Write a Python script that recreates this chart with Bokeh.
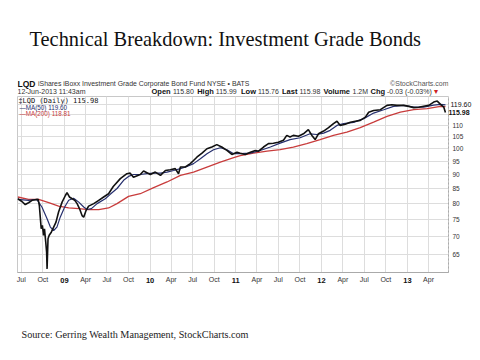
import pandas as pd
from bokeh.plotting import figure
from bokeh.layouts import column
from bokeh.models import (Range1d, FixedTicker, Label, PrintfTickFormatter, DatetimeAxis, LogAxis)
from bokeh.embed import file_html
from bokeh.resources import INLINE

# ---------------- data ----------------
price_dates = ["2008-06-16", "2008-07-04", "2008-07-18", "2008-08-01", "2008-08-16", "2008-08-30",
               "2008-09-11", "2008-09-16", "2008-09-20", "2008-09-24", "2008-09-29", "2008-10-04",
               "2008-10-08", "2008-10-14", "2008-10-17", "2008-10-19", "2008-10-23", "2008-10-28",
               "2008-11-06", "2008-11-16", "2008-11-26", "2008-12-07", "2008-12-22", "2009-01-05",
               "2009-01-12", "2009-01-22", "2009-02-03", "2009-02-14", "2009-02-24", "2009-03-06",
               "2009-03-17", "2009-03-24", "2009-04-03", "2009-04-14", "2009-05-06", "2009-05-27",
               "2009-06-17", "2009-07-08", "2009-07-28", "2009-08-27", "2009-09-24", "2009-10-08",
               "2009-10-22", "2009-11-20", "2009-12-04", "2010-01-02", "2010-01-23", "2010-02-14",
               "2010-03-07", "2010-03-28", "2010-04-18", "2010-05-02", "2010-05-10", "2010-05-31",
               "2010-06-21", "2010-07-05", "2010-07-19", "2010-08-10", "2010-08-31", "2010-09-21",
               "2010-10-12", "2010-11-02", "2010-11-24", "2010-12-15", "2011-01-06", "2011-01-20",
               "2011-02-10", "2011-03-04", "2011-03-25", "2011-04-08", "2011-04-29", "2011-05-20",
               "2011-06-10", "2011-07-01", "2011-07-23", "2011-08-06", "2011-08-20", "2011-09-03",
               "2011-09-25", "2011-10-16", "2011-11-06", "2011-11-21", "2011-12-05", "2011-12-19",
               "2012-01-10", "2012-01-31", "2012-02-21", "2012-03-07", "2012-03-21", "2012-04-11",
               "2012-05-03", "2012-05-24", "2012-06-14", "2012-07-06", "2012-07-20", "2012-08-10",
               "2012-09-08", "2012-10-06", "2012-10-27", "2012-11-17", "2012-12-16", "2013-01-07",
               "2013-01-28", "2013-02-18", "2013-03-11", "2013-04-02", "2013-04-23", "2013-05-08",
               "2013-05-22", "2013-06-05", "2013-06-12"]
price_vals = [81.5, 80.6, 79.6, 80.2, 81.0, 81.2,
              81.3, 79.3, 75.6, 72.1, 73.1, 70.2,
              72.1, 67.8, 65.5, 61.2, 69.2, 70.2,
              71.1, 72.6, 74.1, 77.2, 80.4, 82.6,
              83.6, 82.1, 81.5, 81.0, 79.9, 78.3,
              76.1, 75.6, 77.7, 79.1, 79.9, 81.0,
              82.1, 83.2, 85.7, 88.5, 90.3, 90.5,
              89.0, 90.0, 91.3, 90.0, 90.9, 89.7,
              91.5, 91.8, 92.2, 90.3, 92.8, 92.8,
              94.1, 95.3, 96.6, 98.2, 100.0, 100.7,
              101.7, 100.7, 99.3, 97.7, 98.6, 98.2,
              97.7, 98.6, 99.3, 99.0, 100.7, 102.1,
              102.3, 102.7, 103.5, 105.6, 104.9, 105.6,
              105.2, 106.3, 108.1, 105.6, 103.8, 106.3,
              107.5, 109.0, 110.8, 111.9, 110.0, 110.5,
              111.4, 111.9, 112.3, 113.8, 116.1, 116.9,
              117.3, 119.4, 119.7, 119.4, 119.4, 118.9,
              118.3, 118.5, 119.0, 119.4, 121.0, 121.5,
              119.9, 118.5, 115.98]

ma50_dates = ["2008-06-16", "2008-08-01", "2008-09-05", "2008-09-27", "2008-10-19", "2008-11-02",
              "2008-11-16", "2008-11-30", "2008-12-14", "2009-01-02", "2009-01-19", "2009-02-09",
              "2009-03-03", "2009-03-24", "2009-04-07", "2009-04-26", "2009-05-20", "2009-06-24",
              "2009-07-15", "2009-08-13", "2009-09-10", "2009-10-01", "2009-10-22", "2009-11-20",
              "2009-12-18", "2010-01-16", "2010-02-14", "2010-03-14", "2010-04-11", "2010-05-10",
              "2010-06-07", "2010-07-05", "2010-08-03", "2010-08-31", "2010-09-28", "2010-10-27",
              "2010-11-24", "2010-12-23", "2011-01-20", "2011-03-04", "2011-04-15", "2011-05-28",
              "2011-07-09", "2011-08-20", "2011-10-02", "2011-11-13", "2011-12-12", "2012-01-10",
              "2012-02-07", "2012-03-07", "2012-04-04", "2012-05-17", "2012-06-29", "2012-08-10",
              "2012-09-22", "2012-11-03", "2012-12-16", "2013-01-28", "2013-03-11", "2013-04-23",
              "2013-05-22", "2013-06-12"]
ma50_vals = [81.3, 81.0, 81.3, 78.8, 75.1, 72.6,
             71.6, 72.6, 75.6, 78.8, 81.0, 81.7,
             80.4, 78.8, 78.0, 78.3, 79.9, 81.5,
             83.0, 85.0, 87.9, 89.3, 90.0, 90.0,
             90.3, 90.5, 90.5, 90.9, 91.5, 92.2,
             93.0, 94.1, 96.0, 98.0, 99.6, 100.4,
             99.6, 98.0, 98.0, 98.2, 99.3, 100.7,
             102.3, 103.8, 104.6, 106.3, 106.0, 106.6,
             107.8, 110.0, 110.8, 111.4, 113.1, 115.7,
             117.3, 118.9, 119.4, 118.5, 118.5, 119.5,
             119.9, 119.6]

ma200_dates = ["2008-06-16", "2008-08-01", "2008-09-13", "2008-10-26", "2008-12-07", "2009-01-19",
               "2009-03-03", "2009-04-14", "2009-05-27", "2009-07-08", "2009-08-13", "2009-10-01",
               "2009-11-20", "2010-01-16", "2010-03-14", "2010-05-10", "2010-07-05", "2010-08-31",
               "2010-10-27", "2010-12-23", "2011-01-20", "2011-03-18", "2011-05-14", "2011-07-09",
               "2011-09-03", "2011-10-30", "2011-12-26", "2012-02-21", "2012-04-18", "2012-06-14",
               "2012-08-10", "2012-10-06", "2012-12-02", "2013-01-28", "2013-03-26", "2013-05-22",
               "2013-06-12"]
ma200_vals = [82.1, 81.3, 81.3, 80.2, 79.1, 78.5,
              78.3, 78.0, 78.0, 78.5, 79.9, 82.3,
              83.2, 85.3, 87.3, 89.7, 90.9, 92.8,
              94.7, 96.4, 97.2, 98.2, 99.0, 99.6,
              100.7, 102.1, 103.8, 105.6, 107.0, 109.0,
              111.5, 114.1, 116.1, 117.3, 117.8, 118.9,
              118.81]

tick_dates = ["2008-07-01", "2008-10-01", "2009-01-01", "2009-04-01", "2009-07-01", "2009-10-01",
              "2010-01-01", "2010-04-01", "2010-07-01", "2010-10-01", "2011-01-01", "2011-04-01",
              "2011-07-01", "2011-10-01", "2012-01-01", "2012-04-01", "2012-07-01", "2012-10-01",
              "2013-01-01", "2013-04-01"]
tick_labels = ["Jul", "Oct", "", "Apr", "Jul", "Oct", "", "Apr", "Jul", "Oct", "", "Apr",
               "Jul", "Oct", "", "Apr", "Jul", "Oct", "", "Apr"]
year_dates = ["2009-01-01", "2010-01-01", "2011-01-01", "2012-01-01", "2013-01-01"]
year_labels = ["09", "10", "11", "12", "13"]

y_ticks = [65, 70, 75, 80, 85, 90, 95, 100, 105, 110, 115, 120]
y_tick_labels = ["65", "70", "75", "80", "85", "90", "95", "100", "105", "110", "", ""]

title = "Technical Breakdown: Investment Grade Bonds"
source_note = "Source: Gerring Wealth Management, StockCharts.com"
last_close = 115.98
last_ma50 = 119.60
last_ma200 = 118.81

W = 480
HEAD_H, CHART_H, FOOT_H = 96, 202, 62
FRAME_L, FRAME_R, FRAME_B = 17, 448, 272   # page pixels of the chart frame


def text_fig(height, y0):
    f = figure(width=W, height=height, x_range=Range1d(FRAME_L, FRAME_R),
               y_range=Range1d(y0 + height, y0),
               x_axis_location=None, y_axis_location=None, output_backend="svg",
               toolbar_location=None, min_border_left=FRAME_L, min_border_right=W - FRAME_R,
               min_border_top=0, min_border_bottom=0)
    f.outline_line_color = None
    f.xgrid.visible = False
    f.ygrid.visible = False
    return f


def put(f, text, x, y, size, color="#222222", bold=False, font="Liberation Sans", align="left",
        units="data", **kw):
    f.add_layout(Label(x=x, y=y, x_units=units, y_units=units, text=text, text_font=font,
                       text_font_size=f"{size}px", text_font_style="bold" if bold else "normal",
                       text_color=color, text_align=align, text_baseline="middle", **kw))


# ---------------- header ----------------
head = text_fig(HEAD_H, 0)
put(head, title, 29, 38, 20.4, color="#111111", font="Liberation Serif")
put(head, "LQD", 17, 83, 8.5, color="#111111", bold=True)
put(head, "iShares iBoxx Investment Grade Corporate Bond Fund NYSE \u2022 BATS", 37.5, 83, 6.9, color="#333333")
put(head, "\u00a9StockCharts.com", 448, 83, 7, color="#555555", align="right")
put(head, "12-Jun-2013 11:43am", 17, 91, 7, color="#333333")
header = [("Open", 151, True), ("115.80", 172.5, False), ("High", 196.7, True), ("115.99", 215.3, False),
          ("Low", 240.5, True), ("115.76", 257.5, False), ("Last", 281.5, True), ("115.98", 299, False),
          ("Volume", 323, True), ("1.2M", 352, False), ("Chg", 370, True), ("-0.03 (-0.03%)", 386.5, False)]
for t, x, b in header:
    put(head, t, x, 91, 7.5 if b else 7, color="#111111" if b else "#333333", bold=b)
put(head, "\u25be", 433, 91, 8, color="#cc2222")

# ---------------- chart ----------------
p = figure(width=W, height=CHART_H, x_axis_type="datetime", y_axis_type="log",
           y_axis_location="right", output_backend="svg", toolbar_location=None,
           min_border_left=FRAME_L, min_border_right=W - FRAME_R, min_border_top=0,
           min_border_bottom=CHART_H - (FRAME_B - HEAD_H),
           x_range=Range1d(pd.Timestamp("2008-06-15"), pd.Timestamp("2013-06-25")),
           y_range=Range1d(60.3, 123.8))
p.outline_line_color = "#c8c8c8"

p.line(pd.to_datetime(ma200_dates), ma200_vals, line_color="#c83c3c", line_width=1.3)
p.line(pd.to_datetime(ma50_dates), ma50_vals, line_color="#27306e", line_width=1.2)
p.line(pd.to_datetime(price_dates), price_vals, line_color="#111111", line_width=1.6)

tick_ms = [int(t.value // 10**6) for t in pd.to_datetime(tick_dates)]
xa = p.xaxis[0]
xa.ticker = FixedTicker(ticks=tick_ms)
xa.major_label_overrides = {ms: lab for ms, lab in zip(tick_ms, tick_labels)}
xa.major_label_text_font = "Liberation Sans"
xa.major_label_text_font_size = "7px"
xa.major_label_text_color = "#333333"
xa.major_label_standoff = 3
xa.major_tick_out = 0
xa.major_tick_in = 0
xa.minor_tick_out = 0
xa.minor_tick_in = 0
xa.axis_line_color = "#aaaaaa"

year_ms = [int(t.value // 10**6) for t in pd.to_datetime(year_dates)]
ya_axis = DatetimeAxis(ticker=FixedTicker(ticks=year_ms),
                       major_label_overrides={ms: lab for ms, lab in zip(year_ms, year_labels)},
                       major_label_text_font="Liberation Sans", major_label_text_font_style="bold",
                       major_label_text_font_size="7.5px", major_label_text_color="#111111",
                       major_label_standoff=-8, major_tick_out=0, major_tick_in=0,
                       minor_tick_out=0, minor_tick_in=0, axis_line_color=None)
p.add_layout(ya_axis, "below")

yax = p.yaxis[0]
yax.ticker = FixedTicker(ticks=y_ticks)
yax.formatter = PrintfTickFormatter(format="%d")
yax.major_label_overrides = {t: lab for t, lab in zip(y_ticks, y_tick_labels)}
yax.major_label_text_font = "Liberation Sans"
yax.major_label_text_font_size = "6.5px"
yax.major_label_text_color = "#333333"
yax.major_label_standoff = 4
yax.major_tick_out = 0
yax.major_tick_in = 0
yax.minor_tick_out = 0
yax.minor_tick_in = 0
yax.axis_line_color = "#aaaaaa"
yax.axis_line_dash = "2 2"

# last-value tags on the right (real axes so they sit outside the frame)
for val, bold, so in [(last_ma50, False, -16), (last_close, True, -26)]:
    p.add_layout(LogAxis(ticker=FixedTicker(ticks=[val]), formatter=PrintfTickFormatter(format="%.2f"),
                         major_label_text_font="Liberation Sans", major_label_text_font_size="7px",
                         major_label_text_font_style="bold" if bold else "normal",
                         major_label_text_color="#111111", major_label_standoff=so,
                         major_tick_out=0, major_tick_in=0, minor_tick_out=0, minor_tick_in=0,
                         axis_line_color=None), "right")

p.xgrid.grid_line_color = "#dddddd"
p.ygrid.grid_line_color = "#dddddd"

# legend text inside the frame (screen units from the frame's lower-left corner)
for t, x, y, size, color, font in [
        ("\u2021", 18, 100, 7, "#111111", "Liberation Sans"),
        (f"LQD (Daily) {last_close:.2f}", 22, 100, 7, "#111111", "DejaVu Sans Mono"),
        (f"\u2014MA(50) {last_ma50:.2f}", 19, 106.7, 6.3, "#27306e", "Liberation Sans"),
        (f"\u2014MA(200) {last_ma200:.2f}", 19, 113.4, 6.3, "#c83c3c", "Liberation Sans")]:
    put(p, t, x - FRAME_L, FRAME_B - y, size, color=color, font=font, units="screen")

# ---------------- footer ----------------
foot = text_fig(FOOT_H, HEAD_H + CHART_H)
put(foot, source_note, 21, 334, 10.2, color="#222222", font="Liberation Serif")

open("out.html", "w").write(file_html(column(head, p, foot, spacing=0), INLINE))
